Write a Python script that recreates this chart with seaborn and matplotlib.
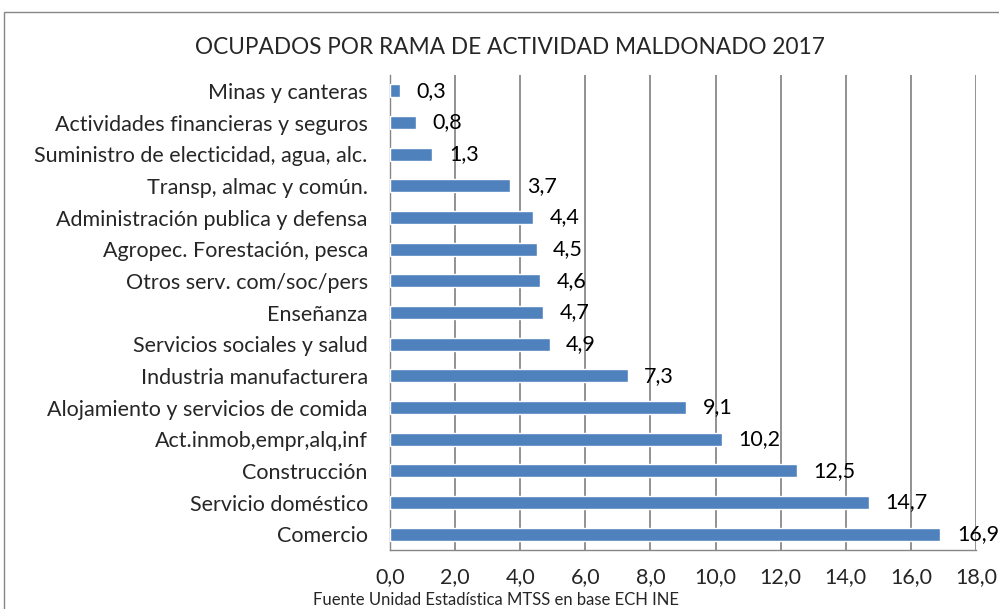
import matplotlib
matplotlib.use("Agg")
import matplotlib.pyplot as plt
import matplotlib.patches as mpatches
import seaborn as sns
import pandas as pd
import numpy as np

ramas = ["Minas y canteras", "Actividades financieras y seguros",
         "Suministro de electicidad, agua, alc.", "Transp, almac y común.",
         "Administración publica y defensa", "Agropec. Forestación, pesca",
         "Otros serv. com/soc/pers", "Enseñanza", "Servicios sociales y salud",
         "Industria manufacturera", "Alojamiento y servicios de comida",
         "Act.inmob,empr,alq,inf", "Construcción", "Servicio doméstico", "Comercio"]
porcentaje = [0.3, 0.8, 1.3, 3.7, 4.4, 4.5, 4.6, 4.7, 4.9, 7.3, 9.1, 10.2, 12.5, 14.7, 16.9]

df = pd.DataFrame({"rama": ramas, "pct": porcentaje})

sns.set_style("white")
plt.rcParams['font.family'] = ['Lato', 'DejaVu Sans']

fig = plt.figure(figsize=(9.99, 6.09), dpi=100)
# eje: x=0 en px 390, x=18 en px 976
ax = fig.add_axes([390/999, 1-550/609, 586/999, 475/609])

sns.barplot(data=df, x="pct", y="rama", orient="h", color="#4F81BD",
            saturation=1, width=0.42, ax=ax, zorder=3)

ax.bar_label(ax.containers[0], labels=[f"{v:.1f}".replace(".", ",") for v in porcentaje],
             padding=12, fontsize=15.5, color="black", clip_on=False)

ax.set_xlim(0, 18)
ax.set_ylim(len(ramas) - 0.5, -0.5)
ax.set_xticks(np.arange(0, 19, 2))
ax.set_xticklabels([f"{v:.1f}".replace(".", ",") for v in np.arange(0, 19, 2)], fontsize=15.5)
ax.tick_params(axis="x", length=4, color="#868686", pad=8)
ax.set_yticks(np.arange(len(ramas)))
ax.set_yticklabels(ramas, fontsize=15.5)
ax.set_yticks(np.arange(len(ramas) + 1) - 0.5, minor=True)
ax.tick_params(axis="y", which="major", length=0, pad=16)
ax.tick_params(axis="y", which="minor", length=4, color="#868686")
ax.set_xlabel("")
ax.set_ylabel("")

ax.grid(axis="x", color="#7f7f7f", linewidth=1.2, zorder=0)
ax.set_axisbelow(True)
for s in ["top", "right"]:
    ax.spines[s].set_visible(False)
for s in ["left", "bottom"]:
    ax.spines[s].set_color("#868686")
    ax.spines[s].set_linewidth(1)

fig.text(510/999, 1-48/609, "OCUPADOS POR RAMA DE ACTIVIDAD MALDONADO 2017",
         ha="center", va="center", fontsize=16.3)
fig.text(313/999, 1-600/609, "Fuente Unidad Estadística MTSS en base ECH INE",
         ha="left", va="center", fontsize=12)

fig.patches.append(mpatches.Rectangle((4/999, -0.1), 1.1, 1.1 - 12/609,
                                      transform=fig.transFigure, fill=False,
                                      edgecolor="#868686", linewidth=1))

fig.savefig("out.png", dpi=100)
